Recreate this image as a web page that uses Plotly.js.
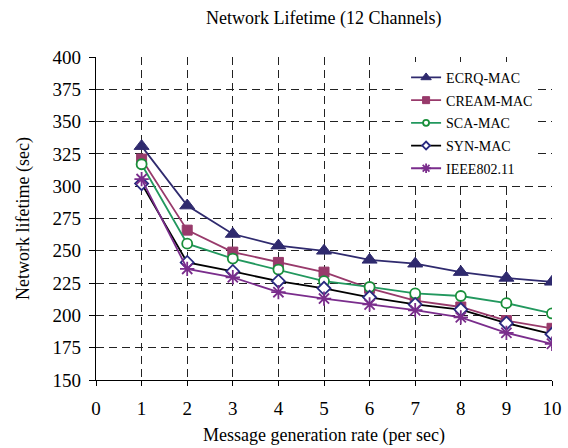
<!DOCTYPE html>
<html>
<head>
<meta charset="utf-8">
<script src="https://cdn.plot.ly/plotly-3.0.1.min.js"></script>
<style>html,body{margin:0;padding:0;background:#fff;}#chart{width:568px;height:448px;}</style>
</head>
<body>
<div id="chart"></div>
<script>
var rates = [1, 2, 3, 4, 5, 6, 7, 8, 9, 10];
var ecrqMac  = [331, 285, 263, 254, 250, 243, 240, 233.5, 229, 226];
var creamMac = [321, 266, 249, 241, 233.5, 221, 211.5, 206.5, 196, 190];
var scaMac   = [317, 255.5, 244, 235.5, 226.5, 222, 217, 215, 209.5, 201.5];
var synMac   = [302, 241, 234, 226.5, 221, 214, 208.5, 204.5, 194, 185.5];
var ieee80211 = [305.5, 236, 229.5, 218, 213, 208.5, 204, 198.5, 186.5, 178];
var seriesNames = ['ECRQ-MAC', 'CREAM-MAC', 'SCA-MAC', 'SYN-MAC', 'IEEE802.11'];
var xTicks = [0, 1, 2, 3, 4, 5, 6, 7, 8, 9, 10];
var yTicks = [150, 175, 200, 225, 250, 275, 300, 325, 350, 375, 400];

var serif = 'Liberation Serif, Times New Roman, serif';

var styles = [
  {line: '#2f2a6e', sym: 'triangle-up', size: 13, lsize: 9, mc: '#2f2a6e', fill: '#2f2a6e', mw: 1},
  {line: '#983a6b', sym: 'square', size: 10, lsize: 7, mc: '#983a6b', fill: '#983a6b', mw: 1},
  {line: '#22985e', sym: 'circle', size: 10, lsize: 6, mc: '#1a8f3a', fill: '#ffffff', mw: 1.8},
  {line: '#000000', sym: 'diamond', size: 10, lsize: 6, mc: '#2a2a80', fill: '#ffffff', mw: 1.8},
  {line: '#7a2d8c', sym: 'asterisk-open', size: 12, lsize: 8, mc: '#7a2d8c', fill: '#7a2d8c', mw: 1.8}
];
var values = [ecrqMac, creamMac, scaMac, synMac, ieee80211];

var data = [];
values.forEach(function (y, i) {
  var s = styles[i];
  data.push({
    x: rates, y: y, name: seriesNames[i], type: 'scatter', mode: 'lines+markers',
    showlegend: false,
    line: {color: s.line, width: 1.8},
    marker: {symbol: s.sym, size: s.size, color: s.fill, line: {color: s.mc, width: s.mw}}
  });
});
values.forEach(function (y, i) {
  var s = styles[i];
  data.push({
    x: [null], y: [null], name: seriesNames[i], type: 'scatter', mode: 'lines+markers',
    legendgroup: seriesNames[i], showlegend: true, hoverinfo: 'skip',
    line: {color: s.line, width: 1.8},
    marker: {symbol: s.sym, size: s.lsize, color: s.fill, line: {color: s.mc, width: s.mw}}
  });
});

var layout = {
  width: 568, height: 448,
  margin: {l: 96, r: 16, t: 57, b: 68},
  paper_bgcolor: '#ffffff', plot_bgcolor: '#ffffff',
  font: {family: serif, color: '#000'},
  title: {text: 'Network Lifetime (12 Channels)', font: {family: serif, size: 18, color: '#000'}, x: 0.57, xanchor: 'center', y: 0.96, yanchor: 'middle'},
  showlegend: true,
  legend: {
    x: 0.68, y: 0.985, xanchor: 'left', yanchor: 'top',
    bgcolor: '#ffffff', borderwidth: 0,
    font: {family: serif, size: 14, color: '#000'},
    traceorder: 'grouped', tracegroupgap: 1.5
  },
  xaxis: {
    range: [0, 10], tickvals: xTicks, ticktext: xTicks.map(String),
    showline: true, linecolor: '#000', linewidth: 1.2,
    ticks: 'outside', ticklen: 5, tickcolor: '#000',
    ticklabelstandoff: 6,
    showgrid: true, gridcolor: '#222', griddash: '8px,5px', gridwidth: 1,
    zeroline: false,
    tickfont: {family: serif, size: 19, color: '#000'},
    title: {text: 'Message generation rate (per sec)', font: {family: serif, size: 18, color: '#000'}, standoff: 10}
  },
  yaxis: {
    range: [150, 400], tickvals: yTicks, ticktext: yTicks.map(String),
    showline: true, linecolor: '#000', linewidth: 1.2,
    ticks: 'outside', ticklen: 6, tickcolor: '#000',
    ticklabelstandoff: 4,
    showgrid: true, gridcolor: '#222', griddash: '8px,5px', gridwidth: 1,
    zeroline: false,
    tickfont: {family: serif, size: 19, color: '#000'},
    title: {text: 'Network lifetime (sec)', font: {family: serif, size: 18, color: '#000'}, standoff: 18}
  }
};

Plotly.newPlot('chart', data, layout, {displayModeBar: false, staticPlot: true});
</script>
</body>
</html>
